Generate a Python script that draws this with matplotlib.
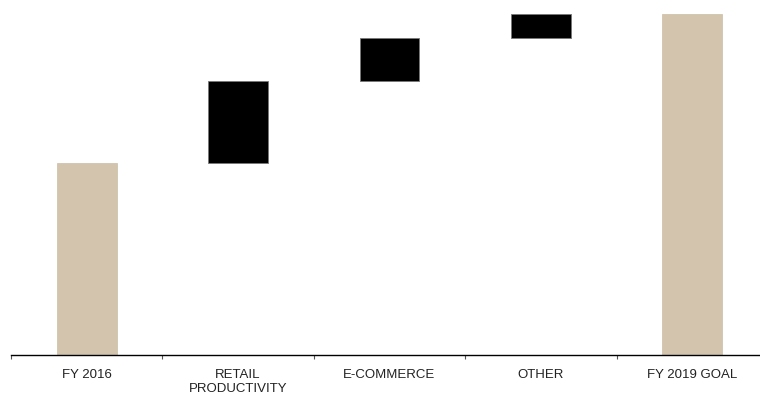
import numpy as np
import matplotlib.pyplot as plt

plt.rcParams['font.family'] = ['Liberation Sans', 'DejaVu Sans']

categories = ['FY 2016', 'RETAIL\nPRODUCTIVITY', 'E-COMMERCE', 'OTHER', 'FY 2019 GOAL']
start_value = 56.3
steps = [24.0, 12.6, 7.1]
goal_value = start_value + sum(steps)

# floating bars: bottoms come from the running total
bottoms = [0, start_value, start_value + steps[0], start_value + steps[0] + steps[1], 0]
heights = [start_value] + steps + [goal_value]
colors = ['#d2c4ad', 'black', 'black', 'black', '#d2c4ad']
edges = ['#d2c4ad', '#777777', '#777777', '#777777', '#d2c4ad']

fig = plt.figure(figsize=(7.6, 3.96), dpi=100)
ax = fig.add_axes([11 / 760, 1 - 355 / 396, 757 / 760, 355 / 396])

x = np.arange(len(categories))
ax.bar(x, heights, bottom=bottoms, width=0.396, color=colors,
       edgecolor=edges, linewidth=0.6)

ax.set_xlim(-0.5, len(categories) - 0.5)
ax.set_ylim(0, goal_value * 355 / 341)

ax.set_xticks(np.arange(-0.5, len(categories), 1.0))
ax.set_xticklabels([])
ax.set_xticks(x, minor=True)
ax.set_xticklabels(categories, minor=True, fontsize=9.5, color='#222222')
ax.tick_params(axis='x', which='major', direction='out', length=3, width=0.8, color='#555555')
ax.tick_params(axis='x', which='minor', length=0, pad=10)
ax.set_yticks([])

for side in ['top', 'right', 'left']:
    ax.spines[side].set_visible(False)
ax.spines['bottom'].set_linewidth(1.0)

fig.savefig('out.png', dpi=100)
